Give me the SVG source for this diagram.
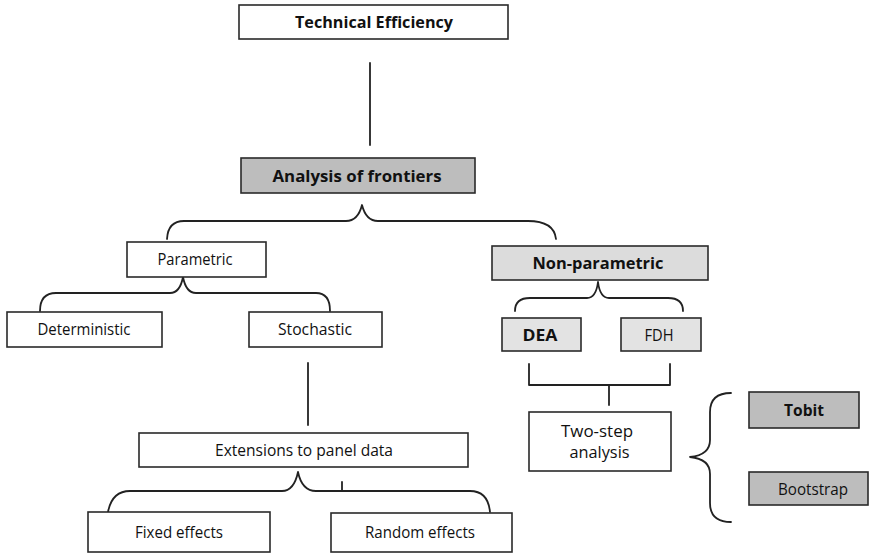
<svg xmlns="http://www.w3.org/2000/svg" width="874" height="557" viewBox="0 0 874 557">
<style>
.box{stroke:#2a2a2a;stroke-width:1.6;fill:#ffffff}
.g1{fill:#bdbdbd}
.g2{fill:#dcdcdc}
.g3{fill:#e3e3e3}
.t{font-family:"Open Sans","Liberation Sans",sans-serif;font-size:16px;fill:#111;text-anchor:middle}
.b{font-weight:bold}
.c{fill:none;stroke:#222;stroke-width:1.8;stroke-linecap:round;stroke-linejoin:round}
</style>
<rect width="874" height="557" fill="#ffffff"/>
<g id="connectors">
<line class="c" x1="370" y1="63" x2="370" y2="145"/>
<path class="c" d="M167,239 Q168,221 184,221 L346,221 Q358,221 362,205 Q366,221 378,221 L528,221 Q554,221 556,239"/>
<path class="c" d="M40,311 Q40,293 56,293 L170,293 Q180,293 183,277 Q186,293 196,293 L316,293 Q330,293 330,311"/>
<path class="c" d="M515,311 Q515,298 530,298 L587,298 Q596,298 598,282 Q600,298 609,298 L668,298 Q683,298 683,311"/>
<path class="c" d="M529,364 L529,385 L670,385 L670,364"/>
<line class="c" x1="609" y1="385" x2="609" y2="405"/>
<line class="c" x1="308" y1="363" x2="308" y2="425"/>
<path class="c" d="M108,512 Q112,491 130,491 L282,491 Q294,491 298,472 Q302,491 316,491 L470,491 Q488,491 490,512"/>
<line class="c" x1="342" y1="482" x2="342" y2="490"/>
<path class="c" d="M731,393 Q710,393 710,412 L710,440 Q710,455 690,457 Q710,459 710,474 L710,503 Q710,522 731,522"/>
</g>
<g id="technical-efficiency">
<rect class="box" x="239" y="5" width="269" height="34"/>
<text class="t b" x="374" y="28" textLength="158" lengthAdjust="spacingAndGlyphs">Technical Efficiency</text>
</g>
<g id="analysis-of-frontiers">
<rect class="box g1" x="241" y="158" width="234" height="35"/>
<text class="t b" x="357" y="181.5" textLength="169" lengthAdjust="spacingAndGlyphs">Analysis of frontiers</text>
</g>
<g id="parametric">
<rect class="box" x="127" y="242" width="139" height="35"/>
<text class="t" x="195" y="265" textLength="75" lengthAdjust="spacingAndGlyphs">Parametric</text>
</g>
<g id="non-parametric">
<rect class="box g2" x="492" y="246" width="216" height="34"/>
<text class="t b" x="598" y="268.5" textLength="131" lengthAdjust="spacingAndGlyphs">Non-parametric</text>
</g>
<g id="deterministic">
<rect class="box" x="7" y="312" width="155" height="35"/>
<text class="t" x="84" y="335" textLength="93" lengthAdjust="spacingAndGlyphs">Deterministic</text>
</g>
<g id="stochastic">
<rect class="box" x="249" y="312" width="133" height="35"/>
<text class="t" x="315" y="335" textLength="74" lengthAdjust="spacingAndGlyphs">Stochastic</text>
</g>
<g id="dea">
<rect class="box g3" x="502" y="318" width="79" height="33"/>
<text class="t b" x="540" y="340.5" textLength="35" lengthAdjust="spacingAndGlyphs">DEA</text>
</g>
<g id="fdh">
<rect class="box g3" x="621" y="318" width="80" height="33"/>
<text class="t" x="659" y="340.5" textLength="29" lengthAdjust="spacingAndGlyphs">FDH</text>
</g>
<g id="two-step-analysis">
<rect class="box" x="529" y="412" width="142" height="59"/>
<text class="t" x="597" y="437" textLength="72" lengthAdjust="spacingAndGlyphs">Two-step</text>
<text class="t" x="599.5" y="458" textLength="60" lengthAdjust="spacingAndGlyphs">analysis</text>
</g>
<g id="tobit">
<rect class="box g1" x="749" y="392" width="110" height="36"/>
<text class="t b" x="804" y="415.5" textLength="40" lengthAdjust="spacingAndGlyphs">Tobit</text>
</g>
<g id="bootstrap">
<rect class="box g1" x="749" y="472" width="119" height="33"/>
<text class="t" x="813" y="494.5" textLength="70" lengthAdjust="spacingAndGlyphs">Bootstrap</text>
</g>
<g id="extensions-to-panel-data">
<rect class="box" x="139" y="433" width="329" height="34"/>
<text class="t" x="304" y="455.5" textLength="178" lengthAdjust="spacingAndGlyphs">Extensions to panel data</text>
</g>
<g id="fixed-effects">
<rect class="box" x="88" y="512" width="182" height="40"/>
<text class="t" x="179" y="537.5" textLength="88" lengthAdjust="spacingAndGlyphs">Fixed effects</text>
</g>
<g id="random-effects">
<rect class="box" x="331" y="513" width="181" height="39"/>
<text class="t" x="420" y="537.5" textLength="110" lengthAdjust="spacingAndGlyphs">Random effects</text>
</g>
</svg>
